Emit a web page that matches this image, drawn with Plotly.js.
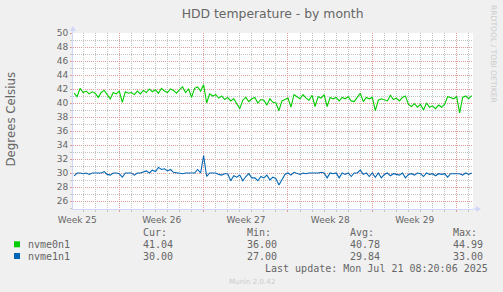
<!DOCTYPE html>
<html><head><meta charset="utf-8">
<script src="https://cdn.plot.ly/plotly-3.0.1.min.js"></script>
<style>html,body{margin:0;padding:0;background:#F0F0F0;}#chart{width:503px;height:292px;}</style>
</head><body><div id="chart"></div>
<script>
// Samples every 6 hours starting 2025-06-18 06:00
const sampleStart = Date.UTC(2025, 5, 18, 6, 0);
const sampleStepHours = 6;

const nvme0n1 = [
41.4,40.9,42.1,41.5,41.7,41.3,41.6,41.4,40.8,41.5,41.8,41.2,40.6,41.5,41.3,41.7,
40.1,41.6,41.4,41.5,41.2,41.7,41.3,41.8,41.5,42.0,41.6,41.9,41.4,42.1,41.7,41.5,42.0,41.8,
41.4,41.9,42.3,41.5,42.0,40.8,42.1,42.3,41.7,42.6,40.0,41.3,41.0,41.2,40.7,41.0,40.5,40.8,
40.3,40.6,39.9,39.2,40.4,40.8,40.2,40.6,40.8,40.0,40.5,40.4,39.7,40.6,40.1,
40.0,38.9,40.3,40.5,40.7,39.4,41.2,40.9,40.6,41.2,40.7,40.4,41.1,39.5,40.9,40.7,41.2,39.5,
40.8,40.6,40.8,40.3,40.8,40.6,40.9,40.3,40.2,40.8,41.4,40.2,40.8,40.6,40.8,
38.9,40.4,40.6,40.5,40.3,41.1,40.5,40.7,40.3,40.8,41.0,39.8,39.5,39.9,39.4,39.8,39.0,40.0,
39.4,39.6,39.2,39.7,39.4,39.8,40.9,40.8,40.6,40.9,38.6,40.8,41.0,40.6,41.04
];
const nvme1n1 = [
29.6,30.0,30.0,29.9,30.0,29.8,30.0,30.0,30.0,30.0,30.2,29.8,29.7,30.0,30.0,29.9,
29.4,30.0,30.0,30.0,29.7,30.0,30.0,30.1,30.3,30.0,30.4,30.2,30.8,30.5,30.6,30.3,30.5,30.1,
30.0,29.9,29.9,30.0,30.0,30.0,30.0,30.5,30.0,32.5,29.5,30.0,30.0,30.0,29.8,29.7,29.9,29.9,
28.9,29.6,29.4,29.7,28.9,29.5,29.9,29.3,29.3,28.9,29.5,29.3,29.7,29.0,29.4,
29.2,28.3,29.1,29.8,30.0,29.7,30.1,30.0,29.8,30.0,29.9,30.0,30.0,29.9,30.0,30.1,30.0,29.3,
30.0,29.9,30.0,29.3,30.0,29.8,30.0,29.5,30.0,30.0,30.4,29.8,30.0,29.5,30.0,
29.4,30.0,29.3,29.8,30.0,29.6,29.9,29.8,29.7,30.0,29.3,29.8,29.9,29.7,30.0,29.9,29.5,30.0,
29.8,29.9,29.6,29.9,29.8,29.9,29.4,29.9,29.9,29.9,29.9,29.7,30.0,29.8,30.0
];

const seriesNames = ['nvme0n1', 'nvme1n1'];
const seriesColors = ['#00CC00', '#0066B3'];
const legendCur = ['41.04', '30.00'];
const legendMin = ['36.00', '27.00'];
const legendAvg = ['40.78', '29.84'];
const legendMax = ['44.99', '33.00'];

const weekTicks = ['2025-06-22', '2025-06-29', '2025-07-06', '2025-07-13', '2025-07-20'];
const weekLabels = ['Week 25', 'Week 26', 'Week 27', 'Week 28', 'Week 29'];

const times = nvme0n1.map((_, i) => sampleStart + i * sampleStepHours * 3600000);

// minor grid positions (days that are not week boundaries; odd degrees)
const DAY = 86400000;
const dayGrid = [];
for (let d = Date.UTC(2025, 5, 19); d <= Date.UTC(2025, 6, 21); d += DAY) {
  if (new Date(d).getUTCDay() !== 0) dayGrid.push(d);
}
const oddGrid = [];
for (let v = 25; v <= 49; v += 2) oddGrid.push(v);

const XRANGE = ['2025-06-18 03:47', '2025-07-21 08:35'];
const YRANGE = [24.857, 50];

const MGRID = '#e59a9a';
const GRID = '#c4c4c4';
const AXIS = '#CFD6F8';
const FONT = '#666666';

const traces = [
  {type: 'scatter', mode: 'lines', x: times, y: nvme0n1, xaxis: 'x', yaxis: 'y',
   line: {color: seriesColors[0], width: 1.1}, hoverinfo: 'skip'},
  {type: 'scatter', mode: 'lines', x: times, y: nvme1n1, xaxis: 'x2', yaxis: 'y2',
   line: {color: seriesColors[1], width: 1.1}, hoverinfo: 'skip'}
];

// plot area: x 73..473, y 33..209
const W = 400, H = 176, L = 73, T = 33;
const px = x => (x - L) / W;
const py = y => (T + H - y) / H;

const ann = [];
const mono = {family: 'DejaVu Sans Mono', size: 10, color: FONT};
function txt(x, y, text, font, extra) {
  ann.push(Object.assign({xref: 'paper', yref: 'paper', x: px(x), y: py(y), text: text,
    showarrow: false, xanchor: 'left', yanchor: 'middle', font: font, borderpad: 0}, extra || {}));
}
const cols = [142, 245.5, 349, 452];
['Cur:', 'Min:', 'Avg:', 'Max:'].forEach((h, i) => txt(cols[i], 232, h, mono));
const rowsY = [244.3, 256];
seriesNames.forEach((n, k) => {
  txt(26.5, rowsY[k], n, mono);
  txt(cols[0], rowsY[k], legendCur[k], mono);
  txt(cols[1], rowsY[k], legendMin[k], mono);
  txt(cols[2], rowsY[k], legendAvg[k], mono);
  txt(cols[3], rowsY[k], legendMax[k], mono);
});
txt(488.5, 268, 'Last update: Mon Jul 21 08:20:06 2025', mono, {xanchor: 'right'});
txt(251.5, 281.7, 'Munin 2.0.42', {family: 'DejaVu Sans', size: 7.1, color: '#cccccc'}, {xanchor: 'center'});
txt(10.5, 119, 'Degrees Celsius', {family: 'DejaVu Sans', size: 11.8, color: FONT}, {xanchor: 'center', textangle: -90});
txt(493, 54, 'RRDTOOL / TOBI OETIKER', {family: 'DejaVu Sans', size: 7.6, color: '#cccccc'}, {xanchor: 'center', textangle: 90});

const shapes = [];
rowsY.forEach((yy, k) => {
  shapes.push({type: 'rect', xref: 'paper', yref: 'paper', x0: px(14), x1: px(20), y0: py(yy + 3), y1: py(yy - 3),
    fillcolor: seriesColors[k], line: {width: 0}});
});
// axis extensions with arrows
shapes.push({type: 'line', xref: 'paper', yref: 'paper', x0: 1, x1: px(478), y0: 0, y1: 0, line: {color: AXIS, width: 1}});
shapes.push({type: 'path', xref: 'paper', yref: 'paper',
  path: `M ${px(476)} ${py(206)} L ${px(481)} ${py(209)} L ${px(476)} ${py(212)} Z`, fillcolor: AXIS, line: {width: 0}});
shapes.push({type: 'line', xref: 'paper', yref: 'paper', x0: 0, x1: 0, y0: 1, y1: py(28), line: {color: AXIS, width: 1}});
shapes.push({type: 'path', xref: 'paper', yref: 'paper',
  path: `M ${px(70)} ${py(31)} L ${px(73)} ${py(26)} L ${px(76)} ${py(31)} Z`, fillcolor: AXIS, line: {width: 0}});

const layout = {
  width: 503, height: 292,
  margin: {l: L, r: 503 - L - W, t: T, b: 292 - T - H, pad: 0},
  paper_bgcolor: '#F0F0F0', plot_bgcolor: '#FFFFFF',
  showlegend: false,
  title: {text: 'HDD temperature - by month', x: 0.499, xref: 'paper', xanchor: 'center',
    y: 1 - 13.3 / 292, yref: 'container', yanchor: 'middle',
    font: {family: 'DejaVu Sans', size: 12.4, color: FONT}},
  xaxis: {
    type: 'date', range: XRANGE,
    tickmode: 'array', tickvals: weekTicks, ticktext: weekLabels, ticklabelshift: -42,
    showgrid: true, gridcolor: MGRID, griddash: '1px,1px', gridwidth: 1,
    ticks: 'outside', ticklen: 2, tickcolor: MGRID,
    showline: true, linecolor: AXIS, linewidth: 1, zeroline: false,
    tickfont: {family: 'DejaVu Sans', size: 9, color: FONT}, fixedrange: true
  },
  xaxis2: {
    type: 'date', range: XRANGE, overlaying: 'x', side: 'bottom',
    tickmode: 'array', tickvals: dayGrid, showticklabels: false,
    showgrid: true, gridcolor: GRID, griddash: '1px,1px', gridwidth: 1,
    ticks: 'outside', ticklen: 2, tickcolor: GRID,
    showline: false, zeroline: false, fixedrange: true
  },
  yaxis: {
    range: YRANGE, tickmode: 'linear', tick0: 0, dtick: 2,
    showgrid: true, gridcolor: MGRID, griddash: '1px,1px', gridwidth: 1,
    ticks: 'outside', ticklen: 2, tickcolor: MGRID,
    showline: true, linecolor: AXIS, linewidth: 1, zeroline: false,
    tickfont: {family: 'DejaVu Sans', size: 9, color: FONT}, fixedrange: true
  },
  yaxis2: {
    range: YRANGE, overlaying: 'y', side: 'left',
    tickmode: 'array', tickvals: oddGrid, showticklabels: false,
    showgrid: true, gridcolor: GRID, griddash: '1px,1px', gridwidth: 1,
    ticks: 'outside', ticklen: 2, tickcolor: GRID,
    showline: false, zeroline: false, fixedrange: true
  },
  annotations: ann, shapes: shapes
};
Plotly.newPlot('chart', traces, layout, {staticPlot: true, displayModeBar: false});
</script></body></html>
